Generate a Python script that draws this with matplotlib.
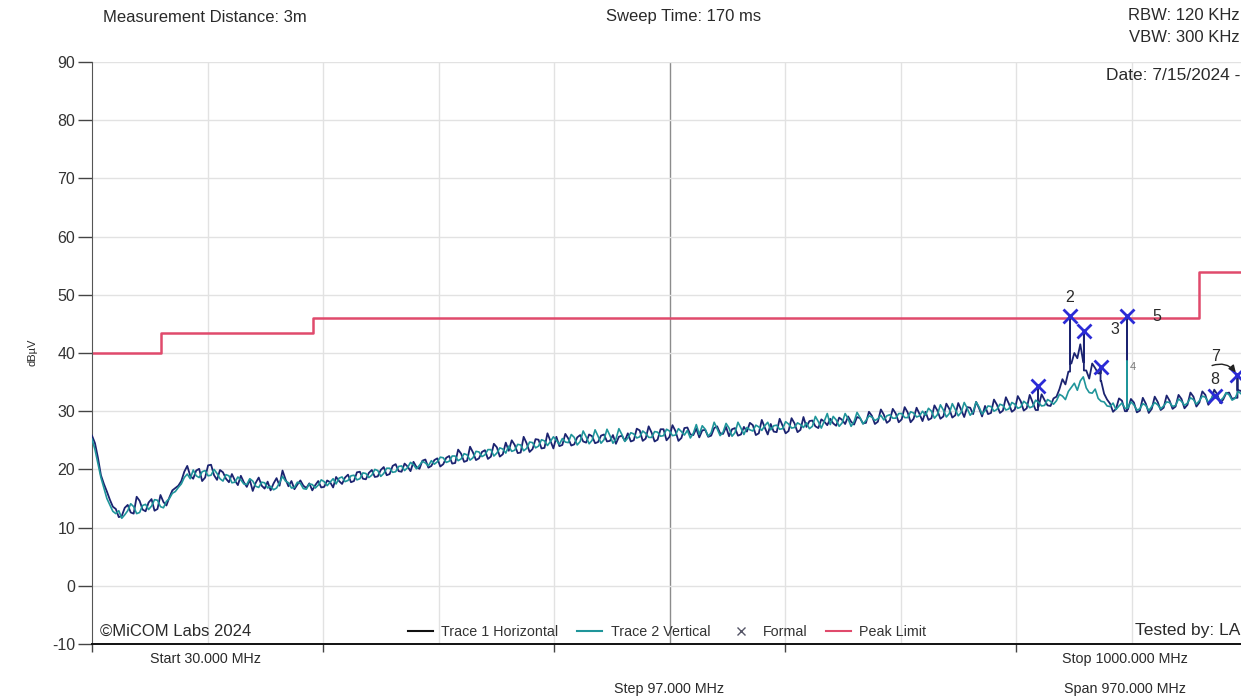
import numpy as np
import matplotlib
matplotlib.use("Agg")
import matplotlib.pyplot as plt
from matplotlib.lines import Line2D

plt.rcParams['font.family'] = ['Liberation Sans', 'DejaVu Sans']
plt.rcParams['axes.unicode_minus'] = False

# sweep: 30 - 1000 MHz, read every 2.5 MHz
f_start = 30.0
f_stop = 1000.0
f_step = 2.5

# trace 1 (horizontal), dBuV at 30, 35, 40 ... 1000 MHz
trace1_main = [
    25.8, 22.0, 17.5, 14.8, 13.2, 12.0, 13.9, 12.4, 14.6, 12.8,
    14.9, 13.2, 14.4, 15.2, 16.8, 18.0, 20.6, 18.4, 20.1, 18.6,
    20.8, 18.2, 19.5, 17.8, 18.1, 18.9, 17.0, 16.3, 18.6, 16.7,
    16.4, 18.5, 19.8, 17.1, 16.6, 18.1, 16.8, 16.4, 18.0, 17.0,
    17.8, 18.7, 17.5, 19.1, 18.0, 19.6, 18.3, 19.9, 18.8, 20.4,
    19.2, 20.9, 19.6, 20.5, 21.3, 20.1, 21.7, 20.6, 21.9, 20.9,
    22.3, 21.1, 22.7, 21.5, 22.9, 21.9, 23.3, 22.2, 23.8, 22.6,
    23.2, 24.2, 22.9, 24.5, 23.5, 25.1, 23.7, 24.9, 25.6, 24.2,
    25.3, 24.3, 25.9, 24.6, 25.7, 24.7, 26.0, 24.9, 24.4, 25.8,
    26.2, 25.0, 26.7, 25.3, 26.3, 25.1, 26.9, 25.6, 26.6, 25.4,
    27.2, 25.9, 25.5, 26.8, 25.8, 27.4, 26.1, 25.7, 27.1, 26.0,
    26.5, 27.6, 26.2, 27.2, 27.8, 26.4, 27.5, 26.6, 27.9, 26.8,
    27.3, 28.4, 27.1, 28.2, 28.7, 27.5, 28.5, 29.1, 27.7, 28.8,
    28.0, 29.2, 28.2, 29.4, 28.4, 29.6, 28.6, 29.8, 28.7, 29.5,
    29.9, 28.8, 30.1, 29.1, 30.4, 29.3, 30.2, 30.7, 29.5, 30.5,
    30.9, 29.7, 31.1, 30.1, 31.3, 30.3, 31.7, 30.5, 31.5, 30.8,
    31.9, 30.9, 32.5, 35.5, 36.8, 40.0, 41.5, 37.0, 38.2, 36.5,
    33.0, 31.3, 30.4, 31.8, 30.3, 31.5, 30.1, 31.3, 30.4, 31.6,
    30.6, 31.8, 30.8, 32.1, 31.1, 32.5, 31.5, 32.8, 31.8, 32.9,
    32.0, 33.2, 32.3, 33.5, 32.6,
]
# trace 1 at the in-between points 32.5, 37.5 ... 997.5 MHz
trace1_mid = [
    24.5, 19.0, 16.2, 13.6, 11.8, 13.4, 12.6, 15.3, 13.1, 14.3,
    12.9, 15.6, 13.8, 16.4, 17.2, 19.6, 18.9, 19.8, 18.0, 20.7,
    19.0, 19.9, 18.4, 19.2, 17.3, 17.8, 18.2, 17.7, 17.2, 17.9,
    17.6, 17.2, 18.3, 18.0, 17.4, 17.2, 17.6, 17.3, 16.9, 18.1,
    16.9, 18.0, 18.6, 17.8, 19.5, 18.4, 19.4, 18.7, 19.9, 19.0,
    20.6, 19.7, 21.0, 19.7, 20.4, 21.5, 20.3, 21.6, 20.5, 22.0,
    21.0, 23.4, 21.3, 23.9, 21.6, 23.0, 21.8, 24.4, 22.2, 24.6,
    25.0, 22.8, 25.6, 23.0, 25.2, 23.6, 26.2, 23.6, 24.0, 26.1,
    24.1, 25.5, 24.8, 26.0, 24.5, 25.8, 24.8, 25.9, 25.6, 24.9,
    24.8, 27.0, 24.9, 27.4, 24.8, 26.9, 25.0, 27.6, 24.9, 27.1,
    26.0, 27.0, 26.7, 25.6, 27.1, 26.2, 27.3, 26.9, 25.8, 27.3,
    28.0, 25.9, 28.5, 26.0, 26.5, 28.7, 26.2, 28.8, 26.4, 29.0,
    28.3, 27.4, 28.6, 27.6, 27.9, 28.9, 27.8, 28.2, 29.0, 27.9,
    29.9, 27.8, 30.3, 28.0, 30.4, 28.1, 30.7, 28.1, 30.6, 28.3,
    28.5, 31.0, 28.7, 31.3, 28.9, 31.4, 29.0, 30.6, 31.6, 29.1,
    29.5, 32.0, 29.7, 32.4, 29.9, 32.6, 30.1, 32.8, 30.2, 32.9,
    31.0, 32.2, 33.8, 34.6, 38.2, 39.1, 38.4, 35.6, 37.4, 35.2,
    32.0, 29.9, 32.2, 30.0, 32.1, 29.8, 32.3, 29.7, 32.5, 30.2,
    32.7, 30.4, 32.8, 30.5, 33.2, 30.8, 33.4, 31.1, 33.7, 31.4,
    33.1, 32.1, 33.6, 32.4,
]

# trace 2 (vertical), dBuV at 30, 35, 40 ... 1000 MHz
trace2_main = [
    25.2, 21.0, 16.8, 13.9, 12.4, 11.6, 12.9, 13.6, 12.6, 14.0,
    13.7, 14.7, 13.4, 15.0, 16.2, 17.5, 19.2, 19.9, 18.6, 19.8,
    19.0, 19.3, 18.0, 18.9, 17.8, 18.2, 17.4, 18.0, 16.9, 17.7,
    17.1, 16.8, 18.8, 17.7, 16.9, 17.6, 16.6, 17.4, 17.3, 17.9,
    17.8, 17.5, 18.7, 18.1, 19.0, 18.4, 19.3, 19.0, 19.8, 19.3,
    20.2, 19.6, 20.6, 20.3, 20.8, 20.7, 21.1, 21.5, 21.3, 22.0,
    21.4, 22.3, 21.8, 22.5, 22.0, 23.0, 22.5, 23.4, 22.8, 23.5,
    24.0, 23.3, 24.2, 23.6, 24.6, 24.0, 24.9, 24.8, 25.0, 25.3,
    24.6, 25.5, 24.8, 25.6, 25.0, 25.7, 25.1, 25.8, 25.2, 26.0,
    25.4, 26.1, 25.6, 26.2, 25.5, 26.4, 25.8, 26.6, 25.9, 26.5,
    26.7, 26.2, 26.0, 26.9, 26.3, 27.0, 26.4, 27.1, 26.3, 27.1,
    27.2, 26.6, 27.3, 27.5, 26.8, 27.6, 27.0, 27.8, 27.2, 27.7,
    28.0, 27.4, 28.2, 28.3, 27.7, 28.5, 28.0, 28.7, 28.2, 28.9,
    28.4, 29.0, 28.7, 28.5, 29.4, 28.8, 29.6, 28.9, 29.7, 29.2,
    29.3, 30.0, 29.4, 30.2, 29.6, 30.3, 29.8, 30.5, 29.9, 30.7,
    30.1, 30.8, 30.3, 31.0, 30.4, 31.2, 30.7, 31.3, 30.8, 31.5,
    31.0, 31.7, 31.8, 32.6, 33.4, 34.8, 35.2, 34.0, 33.1, 32.2,
    31.6, 30.8, 30.3, 31.4, 30.6, 31.1, 30.4, 31.0, 30.8, 31.1,
    30.9, 31.5, 31.0, 31.7, 31.4, 32.0, 31.8, 32.4, 32.2, 32.5,
    32.3, 32.8, 32.2, 33.0, 32.7,
]
# trace 2 at the in-between points 32.5, 37.5 ... 997.5 MHz
trace2_mid = [
    23.4, 18.6, 15.0, 12.8, 12.9, 12.2, 14.1, 12.4, 13.8, 13.1,
    14.8, 13.6, 14.5, 15.9, 16.9, 18.6, 18.4, 18.9, 19.6, 18.9,
    20.0, 18.4, 19.1, 17.7, 18.7, 17.5, 18.4, 17.1, 17.8, 16.8,
    16.5, 17.7, 18.0, 16.8, 17.8, 16.7, 17.5, 16.8, 18.2, 17.2,
    18.4, 18.5, 17.9, 18.9, 18.2, 19.4, 18.6, 20.0, 18.8, 20.2,
    19.5, 20.5, 19.8, 21.2, 20.1, 21.4, 20.6, 20.9, 22.1, 21.2,
    22.3, 21.5, 22.7, 21.6, 23.1, 22.2, 23.4, 22.3, 23.7, 22.8,
    23.1, 24.3, 23.2, 24.7, 23.7, 25.1, 24.1, 25.6, 24.3, 24.7,
    26.0, 24.2, 26.6, 24.4, 26.8, 24.5, 26.9, 24.5, 27.0, 24.8,
    26.3, 25.4, 26.6, 25.5, 26.5, 25.7, 26.9, 25.8, 27.0, 25.9,
    25.4, 27.7, 27.5, 25.7, 28.1, 25.8, 27.9, 25.7, 28.1, 26.0,
    26.8, 27.6, 26.7, 28.1, 27.5, 26.9, 28.2, 27.1, 28.0, 27.2,
    27.0, 29.1, 27.1, 29.6, 29.1, 27.4, 29.6, 27.4, 29.8, 27.8,
    29.2, 28.4, 29.3, 29.2, 28.8, 29.6, 28.9, 29.9, 29.0, 30.0,
    30.5, 28.8, 31.1, 29.0, 31.3, 29.2, 31.5, 29.3, 31.6, 29.5,
    30.9, 30.0, 31.2, 30.2, 31.5, 30.5, 31.7, 30.6, 31.9, 30.9,
    32.0, 31.2, 32.9, 32.0, 34.1, 33.6, 35.9, 33.2, 33.8, 31.7,
    30.9, 31.4, 30.9, 30.5, 31.6, 30.2, 31.3, 30.1, 31.5, 30.4,
    31.6, 30.8, 32.1, 31.0, 32.3, 31.2, 32.6, 31.5, 32.9, 31.8,
    33.2, 31.9, 33.4, 32.3,
]

# narrow emissions that stick out of the sweep (freq MHz, peak dBuV)
spike1_freq = [824.5, 851.4, 863.0, 877.0, 899.2, 992.0]
spike1_level = [34.3, 46.3, 43.8, 37.6, 46.3, 36.3]
spike2_freq = [899.2]
spike2_level = [38.6]

# formal measurement markers
marker_freq = [824.5, 851.4, 863.0, 877.0, 899.2, 973.0, 992.0]
marker_level = [34.3, 46.3, 43.8, 37.6, 46.3, 32.6, 36.3]

# marker number labels: text, marker index, offset in pixels
label_text = ['2', '3', '4', '5', '7', '8']
label_marker = [1, 2, 3, 4, 6, 5]
label_dx = [0, 31, 32, 30, -22, 0]
label_dy = [19, 1, 0, 0, 18, 17]

# peak limit steps (MHz, dBuV)
limit_freq = [30, 88, 88, 216, 216, 960, 960, 1000]
limit_level = [40, 40, 43.5, 43.5, 46, 46, 54, 54]

c_t1 = '#1b2370'
c_t2 = '#1f959a'
c_lim = '#e04a6c'
c_mark = '#2b2bd6'
c_txt = '#2a2a2a'


def interleave(main, mid):
    out = np.empty(len(main) + len(mid))
    out[0::2] = main
    out[1::2] = mid
    return list(out)


def with_spikes(freq, level, sfreq, slevel):
    freq = list(freq)
    level = list(level)
    for sf, sl in zip(sfreq, slevel):
        i = int(np.searchsorted(freq, sf))
        freq[i:i] = [sf, sf, sf]
        level[i:i] = [level[i - 1], sl, level[i]]
    return freq, level


trace1 = interleave(trace1_main, trace1_mid)
trace2 = interleave(trace2_main, trace2_mid)
freq = list(f_start + f_step * np.arange(len(trace1)))
f1, t1 = with_spikes(freq, trace1, spike1_freq, spike1_level)
f2, t2 = with_spikes(freq, trace2, spike2_freq, spike2_level)

fig = plt.figure(figsize=(12.41, 6.96), dpi=100)
W, H = 1241.0, 696.0
ax = fig.add_axes([92 / W, 1 - 644 / H, 1155 / W, 582 / H])

ax.set_xlim(f_start, f_stop)
ax.set_ylim(-10, 90)

# grid
for k in range(1, 10):
    x = f_start + 97 * k
    col = '#8c8c8c' if k == 5 else '#e2e2e2'
    ax.axvline(x, color=col, lw=1.0, zorder=0)
for y in range(0, 91, 10):
    ax.axhline(y, color='#e2e2e2', lw=1.0, zorder=0)

ax.plot(limit_freq, limit_level, color=c_lim, lw=1.8, zorder=2)
ax.plot(f1, t1, color=c_t1, lw=1.3, zorder=3)
ax.plot(f2, t2, color=c_t2, lw=1.2, zorder=4)
ax.plot(marker_freq, marker_level, ls='none', marker='x', ms=10, mew=2,
        color=c_mark, zorder=5)

for txt, mi, dx, dy in zip(label_text, label_marker, label_dx, label_dy):
    small = txt == '4'
    ax.annotate(txt, (marker_freq[mi], marker_level[mi]), xytext=(dx, dy),
                textcoords='offset pixels', ha='center', va='center',
                fontsize=8 if small else 11.5,
                color='#777777' if small else c_txt, zorder=6)

ax.annotate('', xy=(marker_freq[6], marker_level[6]), xytext=(-28, 8),
            textcoords='offset pixels',
            arrowprops=dict(arrowstyle='-|>', color='#222222', lw=1.0,
                            connectionstyle='arc3,rad=-0.4'), zorder=6)

# axes styling
for s in ['top', 'right']:
    ax.spines[s].set_visible(False)
ax.spines['left'].set_color('#555555')
ax.spines['bottom'].set_color('#111111')
ax.spines['bottom'].set_linewidth(1.4)
ax.set_yticks(range(-10, 91, 10))
ax.set_xticks([f_start + 97 * k for k in range(0, 10, 2)])
ax.set_xticklabels([])
ax.tick_params(axis='y', length=10, width=1, colors='#444444', labelsize=11.5,
               labelcolor='#333333', pad=2)
ax.tick_params(axis='x', length=6, width=1, colors='#444444')

# legend
handles = [
    Line2D([], [], color='#111111', lw=1.5),
    Line2D([], [], color=c_t2, lw=1.5),
    Line2D([], [], ls='none', marker='x', color='#555566', ms=6, mew=1),
    Line2D([], [], color=c_lim, lw=1.5),
]
ax.legend(handles, ['Trace 1 Horizontal', 'Trace 2 Vertical', 'Formal', 'Peak Limit'],
          ncol=4, frameon=False, loc='center', bbox_to_anchor=(667 / W, 1 - 632 / H),
          bbox_transform=fig.transFigure, fontsize=10.3, handlelength=1.75,
          handletextpad=0.6, columnspacing=1.3, labelcolor='#333333')

# header / footer texts
fig.text(205 / W, 1 - 17 / H, 'Measurement Distance: 3m', ha='center', va='center',
         fontsize=12, color=c_txt)
fig.text(684 / W, 1 - 17 / H, 'Sweep Time: 170 ms', ha='center', va='center',
         fontsize=12, color=c_txt)
fig.text(1240 / W, 1 - 16 / H, 'RBW: 120 KHz', ha='right', va='center',
         fontsize=12, color=c_txt)
fig.text(1240 / W, 1 - 37 / H, 'VBW: 300 KHz', ha='right', va='center',
         fontsize=12, color=c_txt)
fig.text(1240 / W, 1 - 75 / H, 'Date: 7/15/2024 -', ha='right', va='center',
         fontsize=12.5, color=c_txt)
fig.text(33 / W, 1 - 352 / H, 'dBµV', rotation=90, ha='center', va='center',
         fontsize=8, color=c_txt)
fig.text(100 / W, 1 - 631 / H, '©MiCOM Labs 2024', ha='left', va='center',
         fontsize=12, color=c_txt)
fig.text(1240 / W, 1 - 631 / H, 'Tested by: LA', ha='right', va='center',
         fontsize=12.5, color=c_txt)
fig.text(206 / W, 1 - 659 / H, 'Start 30.000 MHz', ha='center', va='center',
         fontsize=10.3, color=c_txt)
fig.text(669 / W, 1 - 689 / H, 'Step 97.000 MHz', ha='center', va='center',
         fontsize=10.3, color=c_txt)
fig.text(1125 / W, 1 - 659 / H, 'Stop 1000.000 MHz', ha='center', va='center',
         fontsize=10.3, color=c_txt)
fig.text(1125 / W, 1 - 689 / H, 'Span 970.000 MHz', ha='center', va='center',
         fontsize=10.3, color=c_txt)

fig.savefig('out.png', dpi=100)
